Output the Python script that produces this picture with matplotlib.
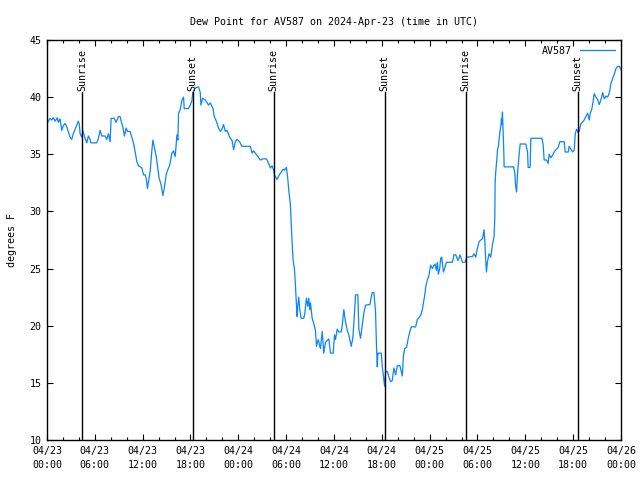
import matplotlib
matplotlib.use("Agg")
import matplotlib.pyplot as plt
import matplotlib.dates as mdates
import matplotlib.transforms as mtransforms
import numpy as np
import pandas as pd

# hours since 2024-04-23 00:00 UTC
hours = [0.0, 0.38, 0.59, 0.79, 1.01, 1.29, 1.42, 1.63, 1.85, 2.05, 2.26, 2.48, 2.89, 3.10, 3.30, 3.64,
         3.93, 4.06, 4.15, 4.36, 4.49, 4.77, 4.99, 5.19, 5.40, 5.49, 6.24, 6.45, 6.66, 6.87, 7.29, 7.50,
         7.70, 7.92, 8.04, 8.42, 8.67, 8.96, 9.17, 9.30, 9.51, 9.71, 9.93, 10.09, 10.43, 10.64, 10.84,
         11.06, 11.27, 11.47, 11.69, 11.90, 12.10, 12.31, 12.44, 12.60, 12.73, 12.94, 13.16, 13.28, 13.44,
         13.70, 13.86, 14.07, 14.29, 14.54, 14.70, 14.95, 15.12, 15.37, 15.67, 15.87, 16.08, 16.30, 16.42,
         16.50, 16.71, 16.93, 17.13, 17.21, 17.75, 17.97, 18.18, 18.28, 18.60, 19.01, 19.22, 19.31, 19.51,
         19.85, 20.27, 20.48, 20.82, 20.98, 21.24, 21.52, 21.74, 21.95, 22.15, 22.37, 22.58, 22.91, 23.21,
         23.41, 23.62, 23.84, 24.16, 24.46, 25.51, 25.72, 25.92, 26.35, 26.76, 27.10, 27.52, 27.68, 28.02,
         28.23, 28.44, 28.52, 28.84, 29.15, 29.62, 29.78, 30.03, 30.19, 30.32, 30.53, 30.62, 30.75, 30.87,
         31.04, 31.16, 31.29, 31.38, 31.45, 31.58, 31.70, 31.88, 32.21, 32.34, 32.54, 32.71, 32.83, 32.96,
         33.05, 33.26, 33.46, 33.67, 33.80, 34.01, 34.30, 34.52, 34.72, 34.93, 35.35, 35.56, 35.90, 36.06,
         36.19, 36.40, 36.60, 36.90, 37.03, 37.23, 37.44, 37.66, 37.86, 38.16, 38.36, 38.49, 38.70, 38.99,
         39.12, 39.33, 39.54, 39.74, 39.96, 40.50, 40.67, 40.80, 41.00, 41.21, 41.34, 41.43, 41.50, 41.93,
         42.06, 42.26, 42.35, 42.47, 42.68, 42.89, 43.10, 43.31, 43.51, 43.73, 43.94, 44.27, 44.57, 44.70,
         44.86, 45.11, 45.27, 45.52, 45.70, 46.24, 46.45, 46.65, 46.87, 47.08, 47.28, 47.41, 47.50, 47.71,
         47.91, 48.12, 48.34, 48.54, 48.67, 48.84, 48.97, 49.09, 49.26, 49.38, 49.51, 49.72, 49.88, 50.10,
         50.85, 51.05, 51.27, 51.56, 51.81, 52.11, 52.44, 52.65, 53.36, 53.57, 53.78, 53.99, 54.20, 54.41,
         54.62, 54.82, 54.91, 55.04, 55.12, 55.25, 55.45, 55.66, 55.88, 56.08, 56.17, 56.21, 56.29, 56.42,
         56.51, 56.63, 56.71, 56.84, 56.92, 57.01, 57.05, 57.13, 57.21, 57.30, 57.34, 58.52, 58.69, 58.77,
         58.90, 59.02, 59.14, 59.35, 60.06, 60.28, 60.35, 60.60, 60.69, 62.07, 62.24, 62.36, 62.66, 62.86,
         62.99, 63.20, 63.41, 63.62, 63.83, 64.12, 64.33, 64.87, 65.00, 65.38, 65.50, 65.72, 65.93, 66.13,
         66.26, 66.43, 66.63, 66.76, 66.97, 67.18, 67.38, 67.60, 67.81, 68.02, 68.14, 68.32, 68.44, 68.64,
         68.86, 69.07, 69.27, 69.40, 69.57, 69.70, 69.91, 70.11, 70.32, 70.53, 70.74, 70.95, 71.15, 71.37,
         71.58, 71.78, 72.0]

dewpoint = [37.7, 38.15, 38.0, 38.2, 37.9, 38.2, 37.8, 38.1, 37.1, 37.5, 37.7, 37.4, 36.5, 36.3, 36.8, 37.4,
            37.9, 37.6, 36.8, 36.5, 37.1, 36.4, 36.0, 36.6, 36.3, 36.0, 36.0, 36.4, 37.1, 36.6, 36.6, 36.3,
            36.8, 36.1, 38.15, 38.15, 37.8, 38.3, 38.3, 37.9, 37.4, 36.6, 37.3, 37.0, 37.0, 36.5, 36.0,
            35.2, 34.35, 34.0, 33.9, 33.8, 33.2, 33.2, 32.9, 32.0, 32.6, 33.5, 35.4, 36.25, 35.7,
            34.8, 34.0, 32.9, 32.4, 31.4, 32.0, 33.2, 33.6, 34.0, 35.1, 35.3, 34.8, 36.7, 36.25,
            38.6, 38.9, 39.75, 40.0, 39.0, 39.0, 39.3, 39.7, 40.4, 40.8, 40.9, 40.4, 39.3, 39.9,
            39.75, 39.3, 39.5, 39.0, 38.3, 37.9, 37.3, 37.0, 37.2, 37.6, 37.0, 37.1, 36.5, 36.2,
            35.4, 36.1, 36.3, 36.1, 35.7, 35.7, 35.1, 35.3, 34.9, 34.5, 34.6, 34.6, 34.4, 33.8,
            34.0, 33.6, 33.2, 32.8, 33.2, 33.7, 33.6, 33.85, 32.95, 31.9, 30.6, 29.25, 27.2, 25.75,
            24.9, 23.6, 21.8, 20.8, 21.7, 22.5, 21.4, 20.65, 20.65, 21.1, 22.4, 21.7, 22.4, 21.4,
            22.0, 20.65, 20.2, 19.6, 18.2, 18.8, 18.0, 19.5, 17.6, 18.55, 18.85, 17.6, 17.6, 19.2,
            18.8, 19.7, 19.45, 19.45, 20.0, 21.4, 20.35, 19.6, 19.2, 18.2, 18.9, 20.2, 22.7, 22.7,
            19.7, 18.9, 20.0, 21.1, 21.8, 21.85, 22.5, 22.9, 22.9, 21.25, 18.0, 16.4, 17.6, 17.6,
            16.4, 15.25, 14.7, 16.0, 16.0, 15.5, 15.1, 15.2, 16.3, 15.7, 16.5, 16.5, 15.6, 17.3,
            18.0, 18.1, 18.75, 19.5, 19.9, 19.9, 20.55, 20.7, 20.9, 21.4, 22.25, 22.8, 23.4, 24.0,
            24.4, 25.3, 25.0, 25.3, 25.4, 24.85, 25.55, 24.5, 25.0, 25.9, 26.0, 24.7, 25.0, 25.55,
            25.55, 26.2, 26.2, 25.7, 26.2, 25.55, 25.55, 26.0, 26.05, 26.3, 26.0, 26.8, 27.35, 27.5,
            27.6, 28.4, 27.5, 25.6, 24.7, 25.6, 26.3, 26.0, 27.1, 27.8, 29.5, 32.45, 33.5, 34.5,
            35.4, 35.7, 36.35, 37.1, 37.4, 38.15, 37.6, 38.7, 37.0, 35.2, 33.9, 33.9, 33.3, 32.3,
            31.7, 33.3, 34.35, 35.9, 35.9, 35.2, 33.85, 33.85, 36.4, 36.4, 35.8, 34.5, 34.5, 34.2,
            35.0, 34.7, 34.9, 35.2, 35.4, 35.6, 36.1, 36.1, 35.2, 35.2, 35.7, 35.45, 35.2, 35.35,
            36.8, 37.2, 36.9, 37.0, 37.7, 37.8, 38.0, 38.3, 38.6, 38.0, 38.6, 38.9, 39.35, 40.3,
            40.0, 39.8, 39.35, 39.6, 40.0, 40.4, 39.85, 40.1, 40.0, 40.35, 41.2, 41.6, 42.0, 42.5,
            42.7, 42.7, 42.4]

event_hours = [4.42, 18.27, 28.43, 42.37, 52.5, 66.55]
event_labels = ["Sunrise", "Sunset", "Sunrise", "Sunset", "Sunrise", "Sunset"]

series_name = "AV587"
title = "Dew Point for AV587 on 2024-Apr-23 (time in UTC)"
ylabel = "degrees F"

start = pd.Timestamp("2024-04-23 00:00")
times = start + pd.to_timedelta(hours, unit="h")
event_times = start + pd.to_timedelta(event_hours, unit="h")

plt.rcParams['font.family'] = ['DejaVu Sans Mono']
fs = 7.2

fig = plt.figure(figsize=(6.4, 4.8), dpi=100)
ax = fig.add_axes([47/640, 40/480, (621-47)/640, 400/480])

ax.plot(times, dewpoint, color='#0a84ff', lw=0.9, label=series_name)

trans = mtransforms.blended_transform_factory(ax.transData, ax.transAxes)
for t, lab in zip(event_times, event_labels):
    ax.plot([t, t], [0, 0.87], color='black', lw=1.0, transform=trans)
    ax.text(t, 0.872, lab, rotation=90, ha='center', va='bottom', fontsize=fs, transform=trans)

ax.set_xlim(start, start + pd.Timedelta(hours=72))
ax.set_ylim(10, 45)
ax.set_yticks(np.arange(10, 46, 5))
ax.xaxis.set_major_locator(mdates.HourLocator(byhour=[0, 6, 12, 18]))
ax.xaxis.set_minor_locator(mdates.HourLocator(byhour=range(0, 24, 2)))
ax.xaxis.set_major_formatter(mdates.DateFormatter("%m/%d\n%H:%M"))

ax.tick_params(axis='both', which='major', direction='in', length=4, width=0.8,
               top=True, right=True, labelsize=fs, pad=4)
ax.tick_params(axis='x', which='major', pad=4)
ax.tick_params(axis='x', which='minor', direction='in', length=2.5, width=0.8, top=True)
for lbl in ax.get_xticklabels():
    lbl.set_linespacing(1.55)
for s in ax.spines.values():
    s.set_linewidth(1.0)

ax.set_title(title, fontsize=fs, pad=11)
ax.set_ylabel(ylabel, fontsize=fs, labelpad=9)

leg = ax.legend(loc='upper right', frameon=False, fontsize=fs, markerfirst=False,
                handlelength=3.5, borderaxespad=0.2, handletextpad=0.8)

fig.savefig("out.png", dpi=100)
